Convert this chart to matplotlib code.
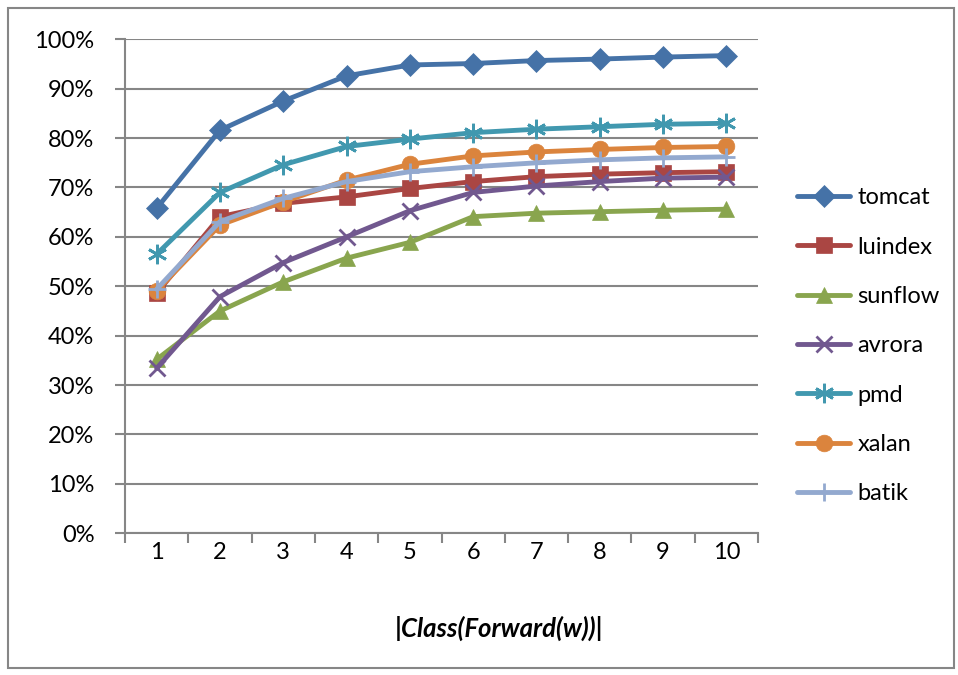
import matplotlib.pyplot as plt
from matplotlib.patches import Rectangle
from matplotlib.ticker import FixedLocator, PercentFormatter

plt.rcParams['font.family'] = ['Lato', 'DejaVu Sans']

x = [1, 2, 3, 4, 5, 6, 7, 8, 9, 10]
tomcat = [65.8, 81.6, 87.5, 92.6, 94.8, 95.1, 95.7, 96.0, 96.4, 96.7]
luindex = [48.6, 64.1, 66.8, 68.1, 69.8, 71.2, 72.2, 72.7, 73.0, 73.2]
sunflow = [35.2, 45.0, 50.9, 55.7, 58.9, 64.1, 64.8, 65.1, 65.4, 65.6]
avrora = [33.4, 47.9, 54.8, 60.0, 65.3, 69.0, 70.3, 71.2, 71.9, 72.1]
pmd = [56.5, 69.0, 74.6, 78.3, 79.8, 81.1, 81.8, 82.3, 82.8, 83.0]
xalan = [49.1, 62.4, 67.1, 71.5, 74.7, 76.4, 77.2, 77.7, 78.1, 78.3]
batik = [49.4, 63.1, 67.8, 71.2, 73.2, 74.2, 75.0, 75.6, 76.0, 76.2]

series = [
    ("tomcat", tomcat, "#4572A7", "D", 11),
    ("luindex", luindex, "#AA4643", "s", 11),
    ("sunflow", sunflow, "#89A54E", "^", 12),
    ("avrora", avrora, "#71588F", "x", 12),
    ("pmd", pmd, "#4198AF", (6, 2, 0), 14),
    ("xalan", xalan, "#DB843D", "o", 12),
    ("batik", batik, "#93A9CF", "+", 13),
]

fig = plt.figure(figsize=(9.58, 6.75), dpi=100)
ax = fig.add_axes([125 / 958, 1 - 533.3 / 675, 633 / 958, 494 / 675])

for name, vals, col, mk, ms in series:
    thin = mk in ("x", "+") or isinstance(mk, tuple)
    ax.plot(x, vals, color=col, lw=3.5, marker=mk, markersize=ms,
            markeredgewidth=2 if thin else 0.5, markeredgecolor=col,
            markerfacecolor=col, label=name, solid_capstyle="round")

grid_col = "#868686"
ax.set_xlim(0.5, 10.5)
ax.set_ylim(0, 100)
ax.yaxis.set_major_locator(FixedLocator(range(0, 101, 10)))
ax.yaxis.set_major_formatter(PercentFormatter(decimals=0))
ax.xaxis.set_major_locator(FixedLocator([i + 0.5 for i in range(0, 11)]))
ax.xaxis.set_minor_locator(FixedLocator(x))
ax.set_xticklabels([])
ax.set_xticklabels([str(i) for i in x], minor=True)
ax.tick_params(axis="x", which="major", length=7, width=1.5, color=grid_col, direction="out")
ax.tick_params(axis="x", which="minor", length=0, pad=6, labelsize=17)
ax.tick_params(axis="y", length=7, width=1.5, color=grid_col, direction="out", labelsize=17, pad=15)
ax.grid(axis="y", color=grid_col, lw=1.5)
ax.set_axisbelow(True)
for s in ("top", "right"):
    ax.spines[s].set_visible(False)
for s in ("left", "bottom"):
    ax.spines[s].set_color(grid_col)
    ax.spines[s].set_linewidth(1.5)

ax.set_xlabel("|Class(Forward(w))|", fontsize=18.5, fontweight="bold",
              fontstyle="italic")
ax.xaxis.set_label_coords((499 - 125) / 633, -(628 - 533.3) / 494)
ax.xaxis.label.set_verticalalignment("center")

fig.legend(loc="upper left", bbox_to_anchor=(776 / 958, 1 - 166 / 675),
           frameon=False, fontsize=17, handlelength=2.25, handletextpad=0.3,
           labelspacing=1.2)

fig.patches.append(Rectangle((8 / 958, 1 - 668 / 675), 946 / 958, 660 / 675,
                             transform=fig.transFigure, fill=False,
                             edgecolor=grid_col, lw=1.5))

fig.savefig("out.png", dpi=100)
